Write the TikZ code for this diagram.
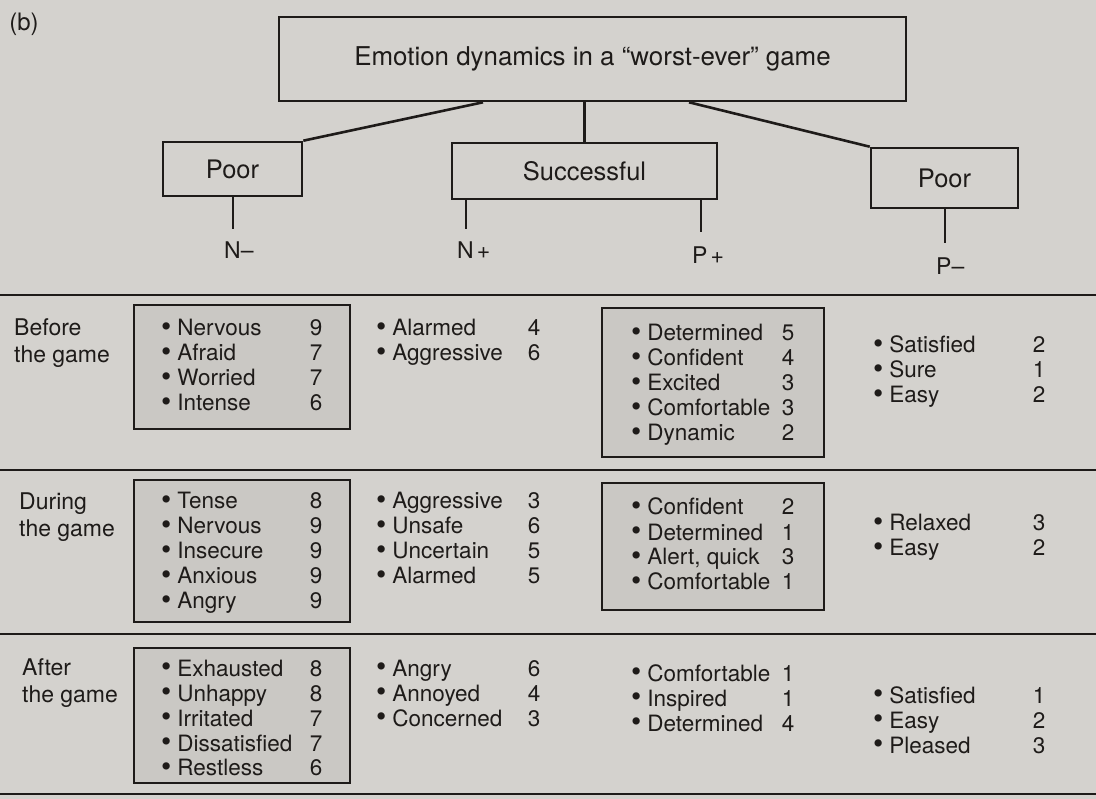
\documentclass[tikz,border=0pt]{standalone}
\usepackage{fontspec}
\setmainfont{TeX Gyre Heros}
\definecolor{paper}{RGB}{212,210,206}
\definecolor{shade}{RGB}{202,200,196}
\definecolor{ink}{RGB}{30,27,25}
\newcommand{\blt}{\raisebox{-0.6pt}{\scalebox{1.3}{\textbullet}}}
\newcommand{\itm}[3]{\makebox[#1][l]{\blt\hspace{6pt}#2}\makebox[12pt][c]{#3}}
\newcommand{\lst}[1]{\begin{tabular}[t]{@{}l@{}}#1\end{tabular}}
\begin{document}
\begin{tikzpicture}[x=1pt,y=-1pt,
  every node/.style={text=ink},
  hbox/.style={draw=ink, line width=2.6pt, inner sep=0pt, font=\fontsize{25.5}{29}\selectfont},
  conn/.style={draw=ink, line width=2.6pt},
  sepline/.style={draw=ink, line width=2.6pt},
  stemlbl/.style={anchor=west, inner sep=0pt, font=\fontsize{23}{26}\selectfont},
  listnode/.style={anchor=base west, inner sep=0pt, font=\fontsize{22.5}{25}\selectfont},
  rowlbl/.style={anchor=base west, inner sep=0pt, font=\fontsize{23}{27}\selectfont},
  shadebox/.style={draw=ink, fill=shade, line width=2.4pt, inner sep=0pt}]
\fill[paper] (0,0) rectangle (1096,799);
\useasboundingbox (0,0) rectangle (1096,799);

% heading
\node[anchor=center, inner sep=0pt, font=\fontsize{24}{28}\selectfont] (lab) at (24,24) {(b)};

% tree
\node[hbox, minimum width=627pt, minimum height=84pt, font=\fontsize{25.9}{30}\selectfont] (top) at (592.5,59) {Emotion dynamics in a “worst-ever” game};
\node[hbox, minimum width=139pt, minimum height=54pt] (poorL) at (232.5,169) {Poor};
\node[hbox, minimum width=265pt, minimum height=56pt] (succ) at (584.5,171) {Successful};
\node[hbox, minimum width=147pt, minimum height=60pt] (poorR) at (944.5,178) {Poor};

\coordinate (jL) at (483,101);
\coordinate (jR) at (689,101);
\draw[conn] (top.south -| jL) -- (poorL.north east);
\draw[conn] (top.south -| succ.north) -- (succ.north);
\draw[conn] (top.south -| jR) -- (poorR.north west);

\coordinate (sNm) at (233,229);
\coordinate (sNp) at (466,229);
\coordinate (sPp) at (701,232);
\coordinate (sPm) at (945,243);
\draw[conn] (poorL.south -| sNm) -- (sNm);
\draw[conn] (succ.south -| sNp) -- (sNp);
\draw[conn] (succ.south -| sPp) -- (sPp);
\draw[conn] (poorR.south -| sPm) -- (sPm);

\node[stemlbl] (Nm) at (224,250) {N–};
\node[stemlbl] (Np) at (457,250) {N\kern3pt+};
\node[stemlbl] (Pp) at (692,255) {P\kern3pt+};
\node[stemlbl] (Pm) at (936,266) {P–};

% separators
\draw[sepline] (0,295) -- (1096,295);
\draw[sepline] (0,470) -- (1096,470);
\draw[sepline] (0,634) -- (1096,634);
\draw[sepline] (0,794) -- (1096,794);

% shaded boxes
\node[shadebox, minimum width=216pt, minimum height=124pt] (b1L) at (242,367) {};
\node[shadebox, minimum width=222pt, minimum height=149pt] (b1P) at (713,382.5) {};
\node[shadebox, minimum width=216pt, minimum height=142pt] (b2L) at (242,551) {};
\node[shadebox, minimum width=222pt, minimum height=127pt] (b2P) at (713,546.5) {};
\node[shadebox, minimum width=216pt, minimum height=135pt] (b3L) at (242,715.5) {};

% row labels
\node[rowlbl] (rBefore) at (14,336) {\lst{Before\\the game}};
\node[rowlbl] (rDuring) at (19,510) {\lst{During\\the game}};
\node[rowlbl] (rAfter) at (22,675) {\lst{After\\the game}};

% Before the game
\node[listnode] (l1L) at (161,336) {\lst{\itm{149pt}{Nervous}{9}\\\itm{149pt}{Afraid}{7}\\\itm{149pt}{Worried}{7}\\\itm{149pt}{Intense}{6}}};
\node[listnode] (l1M) at (376,336) {\lst{\itm{152pt}{Alarmed}{4}\\\itm{152pt}{Aggressive}{6}}};
\node[listnode] (l1P) at (631,341) {\lst{\itm{151pt}{Determined}{5}\\\itm{151pt}{Confident}{4}\\\itm{151pt}{Excited}{3}\\\itm{151pt}{Comfortable}{3}\\\itm{151pt}{Dynamic}{2}}};
\node[listnode] (l1R) at (873,353) {\lst{\itm{160pt}{Satisfied}{2}\\\itm{160pt}{Sure}{1}\\\itm{160pt}{Easy}{2}}};

% During the game
\node[listnode] (l2L) at (161,509) {\lst{\itm{149pt}{Tense}{8}\\\itm{149pt}{Nervous}{9}\\\itm{149pt}{Insecure}{9}\\\itm{149pt}{Anxious}{9}\\\itm{149pt}{Angry}{9}}};
\node[listnode] (l2M) at (376,509) {\lst{\itm{152pt}{Aggressive}{3}\\\itm{152pt}{Unsafe}{6}\\\itm{152pt}{Uncertain}{5}\\\itm{152pt}{Alarmed}{5}}};
\node[listnode] (l2P) at (631,515) {\lst{\itm{151pt}{Confident}{2}\\\itm{151pt}{Determined}{1}\\\itm{151pt}{Alert, quick}{3}\\\itm{151pt}{Comfortable}{1}}};
\node[listnode] (l2R) at (873,531) {\lst{\itm{160pt}{Relaxed}{3}\\\itm{160pt}{Easy}{2}}};

% After the game
\node[listnode] (l3L) at (161,676) {\lst{\itm{149pt}{Exhausted}{8}\\\itm{149pt}{Unhappy}{8}\\\itm{149pt}{Irritated}{7}\\\itm{149pt}{Dissatisfied}{7}\\\itm{149pt}{Restless}{6}}};
\node[listnode] (l3M) at (376,676) {\lst{\itm{152pt}{Angry}{6}\\\itm{152pt}{Annoyed}{4}\\\itm{152pt}{Concerned}{3}}};
\node[listnode] (l3P) at (631,681) {\lst{\itm{151pt}{Comfortable}{1}\\\itm{151pt}{Inspired}{1}\\\itm{151pt}{Determined}{4}}};
\node[listnode] (l3R) at (873,703) {\lst{\itm{160pt}{Satisfied}{1}\\\itm{160pt}{Easy}{2}\\\itm{160pt}{Pleased}{3}}};
\end{tikzpicture}
\end{document}
